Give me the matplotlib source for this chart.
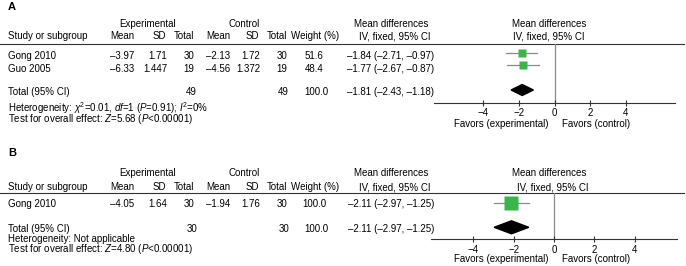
import matplotlib
matplotlib.use("Agg")
import matplotlib.pyplot as plt
from matplotlib.patches import Polygon

plt.rcParams['font.family'] = ['Liberation Sans', 'DejaVu Sans']
plt.rcParams['font.size'] = 7
plt.rcParams['mathtext.fontset'] = 'custom'
plt.rcParams['mathtext.rm'] = 'Liberation Sans'
plt.rcParams['mathtext.it'] = 'Liberation Sans:italic'
plt.rcParams['mathtext.bf'] = 'Liberation Sans:bold'

# ---- data, panel A ----
studies_a = ["Gong 2010", "Guo 2005"]
exp_mean_a = [-3.97, -6.33]
exp_sd_a = [1.71, 1.447]
exp_n_a = [30, 19]
ctl_mean_a = [-2.13, -4.56]
ctl_sd_a = [1.72, 1.372]
ctl_n_a = [30, 19]
weight_a = [51.6, 48.4]
md_a = [-1.84, -1.77]
lo_a = [-2.71, -2.67]
hi_a = [-0.97, -0.87]
total_a = [-1.81, -2.43, -1.18]   # estimate, lower, upper
total_n_a = [49, 49]
het_a = r"Heterogeneity: $\chi^2$=0.01, $df$=1 ($P$=0.91); $I^2$=0%"
test_a = r"Test for overall effect: $Z$=5.68 ($P$<0.00001)"

# ---- data, panel B ----
studies_b = ["Gong 2010"]
exp_mean_b = [-4.05]
exp_sd_b = [1.64]
exp_n_b = [30]
ctl_mean_b = [-1.94]
ctl_sd_b = [1.76]
ctl_n_b = [30]
weight_b = [100.0]
md_b = [-2.11]
lo_b = [-2.97]
hi_b = [-1.25]
total_b = [-2.11, -2.97, -1.25]
total_n_b = [30, 30]
het_b = "Heterogeneity: Not applicable"
test_b = r"Test for overall effect: $Z$=4.80 ($P$<0.00001)"

ticks = [-4, -2, 0, 2, 4]

GREEN = '#3bb54a'
GRAY = '#8a8a8a'
DARK = '#333333'
W, H = 686, 266

fig = plt.figure(figsize=(W / 100, H / 100), dpi=100)
bg = fig.add_axes([0, 0, 1, 1])
bg.set_xlim(0, W)
bg.set_ylim(H, 0)
bg.axis('off')


def d(v, fmt):
    return format(v, fmt).replace('-', '\u2013')


def ci(m, lo, hi):
    return f"{d(m, '.2f')} ({d(lo, '.2f')}, {d(hi, '.2f')})"


def panel(label, studies, em, esd, en, cm, csd, cn, wt, md, lo, hi,
          tot, tot_n, het, test, y, box, xlim, sq_scale, dia_h):
    # y: dict of baselines in pixels
    bg.text(8, y['label'], label, weight='bold', fontsize=8, va='baseline')
    bg.text(147.5, y['h1'], "Experimental", ha='center', va='baseline')
    bg.text(244, y['h1'], "Control", ha='center', va='baseline')
    bg.text(391, y['h1'], "Mean differences", ha='center', va='baseline')
    bg.text(549, y['h1'], "Mean differences", ha='center', va='baseline')
    h2 = [(8, "Study or subgroup", 'left'), (134, "Mean", 'right'),
          (166, "SD", 'right'), (194, "Total", 'right'),
          (230, "Mean", 'right'), (259, "SD", 'right'),
          (287, "Total", 'right'), (291, "Weight (%)", 'left'),
          (395, "IV, fixed, 95% CI", 'center'),
          (y['ivx'], "IV, fixed, 95% CI", 'center')]
    for x, s, ha in h2:
        bg.text(x, y['h2'], s, ha=ha, va='baseline')
    bg.plot([0, 684], [y['line'], y['line']], color=DARK, lw=0.8)

    for i, name in enumerate(studies):
        yy = y['rows'][i]
        bg.text(8, yy, name, va='baseline')
        bg.text(134, yy, d(em[i], '.2f'), ha='right', va='baseline')
        bg.text(167, yy, f"{esd[i]:g}", ha='right', va='baseline')
        bg.text(194, yy, str(en[i]), ha='right', va='baseline')
        bg.text(230, yy, d(cm[i], '.2f'), ha='right', va='baseline')
        bg.text(260, yy, f"{csd[i]:g}", ha='right', va='baseline')
        bg.text(287, yy, str(cn[i]), ha='right', va='baseline')
        bg.text(314, yy, f"{wt[i]:.1f}", ha='center', va='baseline')
        bg.text(434, yy, ci(md[i], lo[i], hi[i]), ha='right', va='baseline')

    yt = y['total']
    bg.text(8, yt, "Total (95% CI)", va='baseline')
    bg.text(197, yt, str(tot_n[0]), ha='right', va='baseline')
    bg.text(289, yt, str(tot_n[1]), ha='right', va='baseline')
    bg.text(316, yt, f"{sum(wt):.1f}", ha='center', va='baseline')
    bg.text(434, yt, ci(*tot), ha='right', va='baseline')
    bg.text(8, y['het'], het, va='baseline')
    bg.text(8, y['test'], test, va='baseline')
    bg.text(549, y['fav'], "Favors (experimental)", ha='right', va='baseline')
    bg.text(562, y['fav'], "Favors (control)", ha='left', va='baseline')

    # forest plot, y in pixel units
    left, right, top, bottom = box
    fx = fig.add_axes([left / W, 1 - bottom / H, (right - left) / W,
                       (bottom - top) / H])
    fx.set_facecolor('none')
    fx.set_xlim(*xlim)
    fx.set_ylim(bottom, top)
    for s in ['top', 'left', 'right']:
        fx.spines[s].set_visible(False)
    fx.spines['bottom'].set_color(DARK)
    fx.spines['bottom'].set_linewidth(0.8)
    fx.set_yticks([])
    fx.set_xticks(ticks)
    fx.tick_params(axis='x', direction='inout', length=4.8, width=0.8,
                   color=DARK, pad=1.6, labelsize=7)
    fx.axvline(0, color=GRAY, lw=0.9, zorder=1)
    for i in range(len(md)):
        ys = y['squares'][i]
        fx.plot([lo[i], hi[i]], [ys, ys], color=GRAY, lw=0.9, zorder=2)
        fx.plot(md[i], ys, 's', ms=wt[i] * sq_scale * 0.72, color=GREEN,
                mec='none', zorder=3)
    yd = y['diamond']
    fx.add_patch(Polygon([(tot[1], yd), (tot[0], yd - dia_h),
                          (tot[2], yd), (tot[0], yd + dia_h)],
                         closed=True, color='black', zorder=3))


panel("A", studies_a, exp_mean_a, exp_sd_a, exp_n_a, ctl_mean_a, ctl_sd_a,
      ctl_n_a, weight_a, md_a, lo_a, hi_a, total_a, total_n_a, het_a, test_a,
      y=dict(label=10, h1=26.7, h2=39.3, line=43.5, rows=[59.3, 71.5],
             total=95, het=112.3, test=122.3, fav=127, ivx=549,
             squares=[52.5, 65], diamond=90),
      box=(434, 675, 43.5, 102.7), xlim=(-6.75, 6.75), sq_scale=0.145,
      dia_h=5.5)

panel("B", studies_b, exp_mean_b, exp_sd_b, exp_n_b, ctl_mean_b, ctl_sd_b,
      ctl_n_b, weight_b, md_b, lo_b, hi_b, total_b, total_n_b, het_b, test_b,
      y=dict(label=156, h1=176, h2=190, line=192.7, rows=[206.7],
             total=231.7, het=241.7, test=251.7, fav=261.5, ivx=553,
             squares=[203], diamond=227.3),
      box=(431, 677, 192.7, 239.3), xlim=(-6.1, 6.1), sq_scale=0.14,
      dia_h=6.5)

fig.savefig("out.png", dpi=100)
